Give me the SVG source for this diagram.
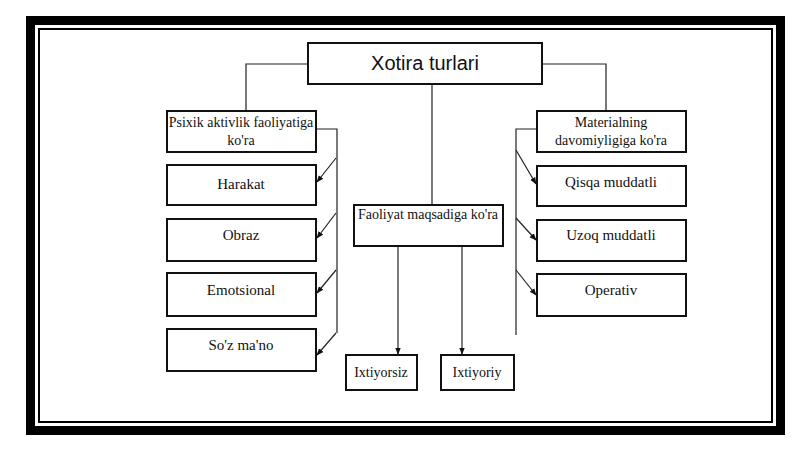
<svg xmlns="http://www.w3.org/2000/svg" width="800" height="449" viewBox="0 0 800 449">
<defs>
<marker id="ah" viewBox="0 0 10 10" refX="9" refY="5" markerWidth="6" markerHeight="6" orient="auto"><path d="M0,1 L10,5 L0,9 z" fill="#111"/></marker>
<style>
.b{fill:#fff;stroke:#111;stroke-width:2}
.t{font-family:"Liberation Serif","Times New Roman",serif;font-size:15px;fill:#111;text-anchor:middle}
.s{font-size:14px}
.c{fill:none;stroke:#222;stroke-width:1.2}
</style>
</defs>
<rect x="0" y="0" width="800" height="449" fill="#fff"/>
<rect x="30.5" y="20.5" width="750" height="410" fill="none" stroke="#000" stroke-width="9"/>
<rect x="39" y="29" width="733" height="393" fill="none" stroke="#000" stroke-width="2"/>
<g id="connectors">
<path class="c" d="M308,64 H246 V111"/>
<path class="c" d="M317,129 H337 V333"/>
<path class="c" d="M336,158 L317,182" marker-end="url(#ah)"/>
<path class="c" d="M336,213 L317,238" marker-end="url(#ah)"/>
<path class="c" d="M336,270 L317,293" marker-end="url(#ah)"/>
<path class="c" d="M336,333 L317,355" marker-end="url(#ah)"/>
<path class="c" d="M432,84 V205"/>
<path class="c" d="M398,246 V354" marker-end="url(#ah)"/>
<path class="c" d="M462,246 V354" marker-end="url(#ah)"/>
<path class="c" d="M542,64 H606 V111"/>
<path class="c" d="M537,129 H516 V335"/>
<path class="c" d="M516,150 L536,184" marker-end="url(#ah)"/>
<path class="c" d="M516,218 L536,240" marker-end="url(#ah)"/>
<path class="c" d="M516,270 L536,295" marker-end="url(#ah)"/>
</g>
<g id="root"><rect class="b" x="308" y="43" width="234" height="41" stroke-width="3"/><text x="425" y="70" text-anchor="middle" font-family="Liberation Sans,sans-serif" font-size="20" fill="#111">Xotira turlari</text></g>
<g id="psixik"><rect class="b" x="167" y="111" width="149" height="41"/><text class="t s" x="241" y="127">Psixik aktivlik faoliyatiga</text><text class="t s" x="241" y="145">ko'ra</text></g>
<g id="harakat"><rect class="b" x="167" y="165" width="149" height="40"/><text class="t" x="241" y="189">Harakat</text></g>
<g id="obraz"><rect class="b" x="167" y="219" width="149" height="42"/><text class="t" x="241" y="240">Obraz</text></g>
<g id="emotsional"><rect class="b" x="167" y="273" width="149" height="43"/><text class="t" x="241" y="295">Emotsional</text></g>
<g id="sozmano"><rect class="b" x="167" y="329" width="149" height="42"/><text class="t" x="241" y="350">So'z ma'no</text></g>
<g id="faoliyat"><rect class="b" x="354" y="205" width="149" height="41"/><text class="t s" x="428" y="219">Faoliyat maqsadiga  ko'ra</text></g>
<g id="ixtiyorsiz"><rect class="b" x="346" y="355" width="71" height="35"/><text class="t s" x="381" y="377">Ixtiyorsiz</text></g>
<g id="ixtiyoriy"><rect class="b" x="441" y="355" width="73" height="35"/><text class="t s" x="477" y="377">Ixtiyoriy</text></g>
<g id="materialning"><rect class="b" x="537" y="111" width="149" height="41"/><text class="t s" x="611" y="127">Materialning</text><text class="t s" x="611" y="145">davomiyligiga ko'ra</text></g>
<g id="qisqa"><rect class="b" x="537" y="166" width="149" height="40"/><text class="t" x="611" y="187">Qisqa muddatli</text></g>
<g id="uzoq"><rect class="b" x="537" y="220" width="149" height="41"/><text class="t" x="611" y="240">Uzoq muddatli</text></g>
<g id="operativ"><rect class="b" x="537" y="274" width="149" height="42"/><text class="t" x="611" y="295">Operativ</text></g>
</svg>
